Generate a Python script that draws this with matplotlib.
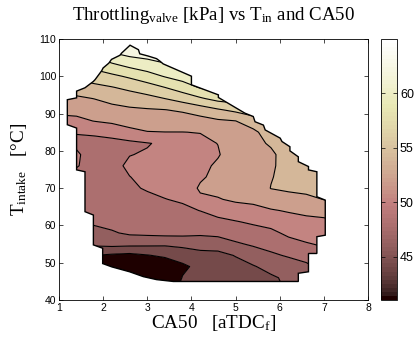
import numpy as np
import matplotlib
matplotlib.use("Agg")
import matplotlib.pyplot as plt
from matplotlib.patches import Polygon
from matplotlib.colors import Normalize
from matplotlib.cm import ScalarMappable

plt.rcParams['font.family'] = ['Liberation Sans', 'DejaVu Sans']
plt.rcParams['mathtext.fontset'] = 'custom'
plt.rcParams['mathtext.rm'] = 'Liberation Serif'
plt.rcParams['mathtext.it'] = 'Liberation Serif:italic'

# ---- grid (CA50 columns, intake temperature rows) ----
ca50 = [1.0, 1.4, 1.8, 2.2, 2.6, 3.0, 3.4, 3.8, 4.2, 4.6, 5.0, 5.4, 5.8, 6.2, 6.6, 7.0, 7.4]
t_intake = [43, 46, 49, 52, 55, 58, 61, 64, 67, 70, 73, 76, 79, 82, 85, 88, 91, 94, 97, 100, 103, 106, 109]

# throttling [kPa] per CA50 column (bottom -> top in T_intake)
thr_1_0 = [45.0, 46.0, 47.0, 47.5, 47.8, 48.0, 48.3, 48.6, 48.9, 49.2, 49.6, 50.2, 50.2, 49.9, 50.5, 51.4, 52.5, 53.6, 55.0, 56.5, 58.0, 59.5, 61.0]
thr_1_4 = [44.5, 45.5, 46.5, 47.0, 47.5, 47.8, 48.0, 48.4, 48.8, 49.2, 49.5, 50.1, 50.15, 49.8, 50.05, 51.5, 52.67, 53.67, 55.0, 56.5, 58.0, 59.5, 61.0]
thr_1_8 = [41.8, 42.4, 43.0, 44.0, 46.4, 47.4, 48.3, 48.6, 48.9, 49.1, 49.3, 49.4, 49.5, 49.8, 50.1, 52.05, 53.03, 54.03, 55.48, 57.03, 58.7, 60.5, 62.0]
thr_2_2 = [41.5, 41.8, 42.5, 43.7, 46.6, 47.8, 48.6, 48.9, 49.1, 49.3, 49.4, 49.5, 49.6, 49.8, 50.23, 52.5, 53.41, 54.58, 55.91, 57.6, 59.64, 61.8, 63.5]
thr_2_6 = [41.3, 41.2, 41.5, 43.5, 46.5, 48.3, 48.8, 49.2, 49.5, 49.75, 49.97, 50.3, 49.95, 49.55, 51.5, 52.72, 53.7, 54.98, 56.47, 58.31, 60.52, 62.5, 64.2]
thr_3_0 = [41.5, 41.2, 42.0, 43.9, 46.4, 48.45, 48.66, 49.15, 49.63, 50.15, 50.4, 50.45, 50.15, 49.9, 51.93, 52.89, 53.84, 55.39, 57.12, 59.2, 61.11, 62.8, 64.0]
thr_3_4 = [41.5, 41.7, 42.5, 44.36, 46.29, 48.6, 49.0, 49.45, 49.96, 50.4, 50.7, 50.85, 50.7, 50.3, 51.98, 52.97, 53.97, 56.0, 58.0, 60.14, 61.73, 63.3, 64.5]
thr_3_8 = [45.0, 44.1, 43.6, 45.0, 46.45, 48.6, 49.0, 49.66, 50.2, 50.6, 50.95, 51.1, 51.05, 51.0, 51.98, 53.05, 54.27, 56.85, 58.97, 60.9, 62.5, 63.5, 64.5]
thr_4_2 = [44.5, 44.3, 44.6, 45.4, 46.75, 48.37, 49.2, 50.03, 51.6, 52.3, 51.7, 51.5, 51.5, 51.6, 52.05, 53.23, 55.0, 57.74, 60.16, 62.0, 63.0, 64.0, 65.0]
thr_4_6 = [44.8, 44.6, 44.9, 45.4, 46.97, 48.52, 49.55, 50.68, 51.88, 52.5, 52.6, 52.3, 51.85, 52.03, 52.92, 53.71, 55.8, 58.66, 61.0, 62.5, 63.5, 64.5, 65.0]
thr_5_0 = [45.0, 44.9, 45.3, 46.1, 47.75, 48.86, 49.9, 51.13, 52.3, 52.7, 52.9, 53.0, 53.0, 53.1, 53.35, 53.97, 56.5, 59.0, 61.0, 62.5, 63.5, 64.5, 65.0]
thr_5_4 = [45.2, 45.0, 45.85, 47.06, 48.23, 49.23, 50.28, 51.5, 52.4, 52.8, 53.1, 53.2, 53.3, 53.4, 53.5, 55.2, 57.0, 59.0, 60.5, 62.0, 63.0, 64.0, 65.0]
thr_5_8 = [45.5, 45.7, 46.66, 47.7, 48.65, 49.58, 50.65, 51.85, 53.0, 54.05, 53.9, 53.7, 53.6, 54.25, 55.2, 56.5, 58.0, 59.5, 61.0, 62.0, 63.0, 64.0, 65.0]
thr_6_2 = [46.2, 46.4, 47.1, 48.19, 49.35, 50.38, 51.25, 52.15, 53.28, 54.35, 54.6, 54.8, 55.0, 55.6, 57.0, 58.5, 60.0, 61.0, 62.0, 63.0, 64.0, 65.0, 65.0]
thr_6_6 = [46.5, 46.9, 47.6, 48.72, 49.86, 50.71, 51.5, 52.44, 53.58, 54.5, 54.9, 55.2, 55.6, 56.5, 57.5, 59.0, 60.5, 61.5, 62.5, 63.5, 64.5, 65.0, 65.0]
thr_7_0 = [47.5, 48.0, 48.6, 49.4, 50.2, 50.9, 51.55, 52.79, 54.04, 55.0, 55.4, 55.8, 56.2, 57.0, 58.0, 59.5, 61.0, 62.0, 63.0, 64.0, 65.0, 65.0, 65.0]
thr_7_4 = [48.0, 48.5, 49.1, 49.9, 50.7, 51.4, 52.1, 53.3, 54.5, 55.4, 55.8, 56.2, 56.6, 57.4, 58.4, 59.9, 61.4, 62.4, 63.4, 64.4, 65.0, 65.0, 65.0]

# operating-region boundary (CA50, T_intake)
boundary_ca50 = [2.61, 2.80, 2.83, 3.02, 3.21, 3.29, 3.36, 4.00, 4.00, 4.61, 4.61, 5.21, 5.40, 5.44,
                 5.63, 5.67, 6.01, 6.05, 6.23, 6.23, 6.42, 6.42, 6.65, 6.65, 6.84, 6.84, 7.03, 7.03,
                 6.84, 6.84, 6.65, 6.65, 6.42, 6.42, 3.59, 3.21, 2.91, 2.60, 2.20, 1.99, 1.99, 1.78,
                 1.78, 1.59, 1.59, 1.40, 1.40, 1.19, 1.19, 1.40, 1.40, 1.59, 1.78, 1.82, 1.97, 2.00,
                 2.13, 2.19, 2.38, 2.42]
boundary_tin = [108.3, 107.1, 106.0, 105.4, 104.7, 104.0, 103.3, 100.0, 97.7, 95.0, 94.3, 90.1, 89.2, 87.8,
                86.9, 85.6, 83.4, 82.5, 81.1, 80.0, 78.4, 77.1, 75.8, 74.9, 74.4, 67.7, 66.8, 57.4,
                57.0, 52.5, 52.5, 47.6, 47.2, 45.0, 45.0, 45.5, 46.3, 47.6, 48.9, 49.8, 53.9, 54.8,
                62.8, 63.7, 74.4, 74.9, 86.1, 87.0, 93.7, 94.2, 96.0, 96.9, 98.6, 99.1, 101.5, 102.2,
                103.5, 104.5, 105.6, 106.2]

line_levels = [44, 46, 48, 50, 52, 54, 56, 58, 60, 62]
fill_levels = [40, 44, 46, 48, 50, 52, 54, 56, 58, 60, 62, 66]
band_values = [41, 44, 46, 48, 50, 52, 54, 56, 58, 60, 62]
cbar_ticks = [45, 50, 55, 60]

Z = np.column_stack([thr_1_0, thr_1_4, thr_1_8, thr_2_2, thr_2_6, thr_3_0, thr_3_4, thr_3_8,
                     thr_4_2, thr_4_6, thr_5_0, thr_5_4, thr_5_8, thr_6_2, thr_6_6, thr_7_0, thr_7_4])
X, Y = np.meshgrid(ca50, t_intake)

fig = plt.figure(figsize=(4.15, 3.38), dpi=100)
ax = fig.add_axes([0.142, 0.112, 0.745, 0.773])
cax = fig.add_axes([0.918, 0.112, 0.039, 0.773])

cmap64 = plt.get_cmap('pink', 64)
norm = Normalize(41, 65)
band_colors = [cmap64(norm(v)) for v in band_values]

cs = ax.contourf(X, Y, Z, levels=fill_levels, colors=band_colors, antialiased=True)
cl = ax.contour(X, Y, Z, levels=line_levels, colors='k', linewidths=0.8)

verts = np.column_stack([boundary_ca50, boundary_tin])
clip = Polygon(verts, closed=True, transform=ax.transData, fc='none', ec='none')
ax.add_patch(clip)
cs.set_clip_path(clip)
cl.set_clip_path(clip)
ax.add_patch(Polygon(verts, closed=True, fill=False, ec='k', lw=1.0, zorder=3))

ax.set_xlim(1, 8)
ax.set_ylim(40, 110)
ax.set_xticks(range(1, 9))
ax.set_yticks(range(40, 111, 10))
ax.tick_params(direction='in', top=True, right=True, labelsize=7.5, length=3, width=0.5, pad=2)
for s in ax.spines.values():
    s.set_linewidth(0.6)

sm = ScalarMappable(norm=norm, cmap=cmap64)
cb = fig.colorbar(sm, cax=cax, ticks=cbar_ticks)
cax.tick_params(direction='in', labelsize=9, left=True, right=True, length=3, width=0.5, pad=2)
cb.outline.set_linewidth(0.6)

fig.text(0.514, 0.94, r'Throttling$_{\rm valve}$ [kPa] vs T$_{\rm in}$ and CA50',
         ha='center', va='baseline', fontsize=13.6, family='Liberation Serif')
fig.text(0.514, 0.03, r'CA50   [aTDC$_{\rm f}$]', ha='center', va='baseline',
         fontsize=13.8, family='Liberation Serif')
fig.text(0.046, 0.4985, r'T$_{\rm intake}$   [°C]', ha='center', va='center', rotation=90,
         fontsize=13.8, family='Liberation Serif')

fig.savefig('out.png', dpi=100)
